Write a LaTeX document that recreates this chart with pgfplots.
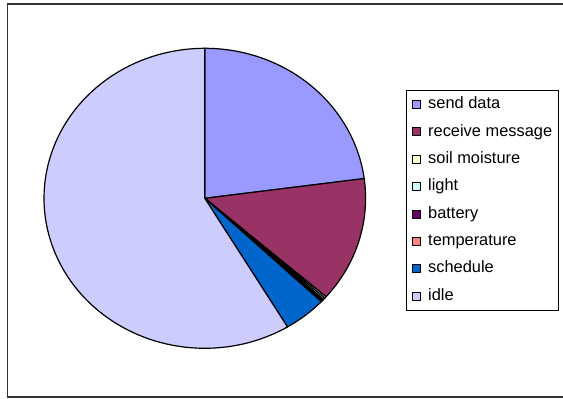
\documentclass[border=0pt]{standalone}
\usepackage{pgfplots}
\pgfplotsset{compat=1.18}
\usepackage{fontspec}
\setmainfont{Liberation Sans}
\definecolor{cSend}{HTML}{9999FF}
\definecolor{cRecv}{HTML}{993366}
\definecolor{cSoil}{HTML}{FFFFCC}
\definecolor{cLight}{HTML}{CCFFFF}
\definecolor{cBatt}{HTML}{660066}
\definecolor{cTemp}{HTML}{FF8080}
\definecolor{cSched}{HTML}{0066CC}
\definecolor{cIdle}{HTML}{CCCCFF}
% shares in percent
\def\pSend{22.9}
\def\pRecv{13.5}
\def\pSoil{0.2}
\def\pLight{0.2}
\def\pBatt{0.15}
\def\pTemp{0.15}
\def\pSched{4.3}
\def\pIdle{58.6}
\begin{document}
\begin{tikzpicture}
\pgfmathsetmacro\aA{90-3.6*\pSend}
\pgfmathsetmacro\aB{\aA-3.6*\pRecv}
\pgfmathsetmacro\aC{\aB-3.6*\pSoil}
\pgfmathsetmacro\aD{\aC-3.6*\pLight}
\pgfmathsetmacro\aE{\aD-3.6*\pBatt}
\pgfmathsetmacro\aF{\aE-3.6*\pTemp}
\pgfmathsetmacro\aG{\aF-3.6*\pSched}
\pgfmathsetmacro\aH{\aG-3.6*\pIdle}
\path[use as bounding box] (0,0) rectangle (563pt,399pt);
\clip (0,0) rectangle (563pt,399pt);
\draw[line width=1.7pt, black!80] (7.5pt,395pt) rectangle (590pt,2.2pt);
\begin{axis}[
  scale only axis, width=321.6pt, height=300pt,
  xmin=-1, xmax=1, ymin=-1, ymax=1,
  hide axis, clip=false,
  anchor=center, at={(204.8pt,200.7pt)},
  samples=100,
  every axis plot/.append style={draw=black, line width=1.2pt, line join=round},
  legend image code/.code={\draw[#1,draw=black,line width=0.8pt] (0pt,-4pt) rectangle (8pt,4pt);},
  legend style={at={(1.1256,0.861)}, anchor=north west, draw=black, line width=0.8pt,
    font=\fontsize{16.4}{19.7}\selectfont, inner xsep=6pt, inner ysep=6.2pt,
    row sep=11.9pt, column sep=7pt,
    nodes={inner sep=0pt, text height=12pt, text depth=3.5pt}},
  legend cell align=left,
]
\addplot[fill=cSend, domain=\aA:90] ({cos(x)},{sin(x)}) -- (0,0) -- cycle;
\addlegendentry{send data}
\addplot[fill=cRecv, domain=\aB:\aA] ({cos(x)},{sin(x)}) -- (0,0) -- cycle;
\addlegendentry{receive message}
\addplot[fill=cSoil, domain=\aC:\aB] ({cos(x)},{sin(x)}) -- (0,0) -- cycle;
\addlegendentry{soil moisture}
\addplot[fill=cLight, domain=\aD:\aC] ({cos(x)},{sin(x)}) -- (0,0) -- cycle;
\addlegendentry{light}
\addplot[fill=cBatt, domain=\aE:\aD] ({cos(x)},{sin(x)}) -- (0,0) -- cycle;
\addlegendentry{battery}
\addplot[fill=cTemp, domain=\aF:\aE] ({cos(x)},{sin(x)}) -- (0,0) -- cycle;
\addlegendentry{temperature}
\addplot[fill=cSched, domain=\aG:\aF] ({cos(x)},{sin(x)}) -- (0,0) -- cycle;
\addlegendentry{schedule}
\addplot[fill=cIdle, domain=\aH:\aG] ({cos(x)},{sin(x)}) -- (0,0) -- cycle;
\addlegendentry{idle}
\end{axis}
\end{tikzpicture}
\end{document}
